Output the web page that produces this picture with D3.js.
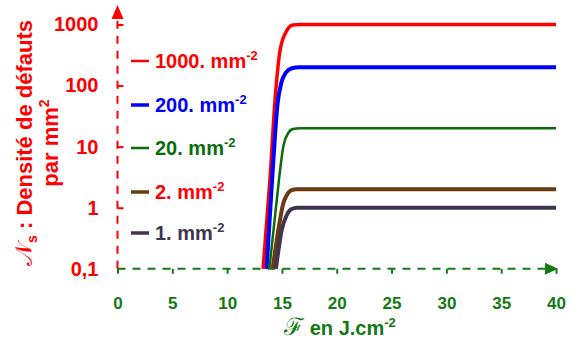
<!DOCTYPE html>
<html><head><meta charset="utf-8">
<script src="https://cdn.jsdelivr.net/npm/d3@7"></script>
<style>
html,body{margin:0;padding:0;background:#fff;}
svg{display:block;font-family:"Liberation Sans",Arial,sans-serif;font-weight:bold;}
</style></head>
<body>
<svg id="chart" width="572" height="347"></svg>
<script>
// ---- data ----
const xTicks = [0, 5, 10, 15, 20, 25, 30, 35, 40];
const yTicks = [0.1, 1, 10, 100, 1000];
const yTickLabels = ["0,1", "1", "10", "100", "1000"];
const legendLabels = ["1000.", "200.", "20.", "2.", "1."];
const seriesColors = ["#ff0000", "#0000ff", "#0b6b0b", "#6b3a10", "#40344f"];
const legendTextColors = ["#ff0000", "#0000ff", "#0b6b0b", "#ff0000", "#40344f"];
// fluence (J.cm-2) and density (mm-2)
const F_1000 = [13.28, 13.9, 14.37, 14.83, 15.45, 16.0, 16.6, 40];
const N_1000 = [0.1, 2.8, 58, 380, 800, 985, 1000, 1000];
const F_200 = [13.6, 14.1, 14.6, 14.95, 15.35, 15.9, 16.6, 40];
const N_200 = [0.1, 2.8, 50, 112, 163, 192, 200, 200];
const F_20 = [13.85, 14.5, 14.83, 15.1, 15.56, 16.0, 16.65, 40];
const N_20 = [0.1, 1.2, 4.1, 9.5, 16.5, 19.5, 20, 20];
const F_2 = [14.15, 14.67, 15.13, 15.44, 15.89, 16.35, 40];
const N_2 = [0.1, 0.43, 1.19, 1.6, 1.94, 2, 2];
const F_1 = [14.45, 14.98, 15.44, 15.89, 16.38, 40];
const N_1 = [0.1, 0.43, 0.76, 0.95, 1, 1];

const seriesF = [F_1000, F_200, F_20, F_2, F_1];
const seriesN = [N_1000, N_200, N_20, N_2, N_1];
const seriesWidths = [3.5, 4, 2.5, 4, 4];

const svg = d3.select("#chart");
const x = d3.scaleLinear().domain([0, 40]).range([117.5, 556]);
const y = d3.scaleLog().domain([0.1, 1000]).range([268.8, 24.5]);
const green = "#127a12";
const red = "#ff0000";

// ---- axes ----
const xAxis = d3.axisBottom(x).tickValues(xTicks).tickSize(5).tickPadding(23).tickFormat(d3.format("d"));
const gx = svg.append("g").attr("transform", `translate(0,${y(0.1)})`).call(xAxis);
gx.select(".domain").remove();
gx.selectAll(".tick line").attr("stroke", green).attr("stroke-width", 2);
gx.selectAll(".tick text").attr("fill", green).attr("font-size", 17).attr("font-weight", "bold")
  .attr("font-family", "Liberation Sans, Arial, sans-serif");

const yAxis = d3.axisLeft(y).tickValues(yTicks).tickSize(-6).tickPadding(19)
  .tickFormat((d, i) => yTickLabels[i]);
const gy = svg.append("g").attr("transform", `translate(${x(0)},0)`).call(yAxis);
gy.select(".domain").remove();
gy.selectAll(".tick line").attr("stroke", red).attr("stroke-width", 2)
  .attr("display", d => d === 0.1 ? "none" : null);
gy.selectAll(".tick text").attr("fill", red).attr("font-size", 20).attr("font-weight", "bold")
  .attr("font-family", "Liberation Sans, Arial, sans-serif");

// dashed axis lines
svg.append("line").attr("x1", x(0)).attr("x2", 546).attr("y1", y(0.1)).attr("y2", y(0.1))
  .attr("stroke", green).attr("stroke-width", 2).attr("stroke-dasharray", "8,7");
svg.append("path").attr("d", `M545,${y(0.1) - 6}L558,${y(0.1)}L545,${y(0.1) + 6}Z`).attr("fill", green);
svg.append("line").attr("x1", x(0)).attr("x2", x(0)).attr("y1", y(0.1)).attr("y2", 18)
  .attr("stroke", red).attr("stroke-width", 2).attr("stroke-dasharray", "8,7");
svg.append("path").attr("d", `M${x(0) - 6},19L${x(0)},5L${x(0) + 6},19Z`).attr("fill", red);

// ---- curves ----
const line = d3.line().x(d => x(d[0])).y(d => y(d[1])).curve(d3.curveMonotoneX);
seriesF.forEach((F, i) => {
  const pts = F.map((f, j) => [f, seriesN[i][j]]);
  svg.append("path").attr("d", line(pts)).attr("fill", "none")
    .attr("stroke", seriesColors[i]).attr("stroke-width", seriesWidths[i]);
});

// ---- legend ----
const legendY = [61, 105, 148, 192, 233];
legendLabels.forEach((lab, i) => {
  svg.append("line").attr("x1", 131).attr("x2", 149).attr("y1", legendY[i]).attr("y2", legendY[i])
    .attr("stroke", seriesColors[i]).attr("stroke-width", i === 2 || i === 0 ? 2.5 : 3.5);
  const t = svg.append("text").attr("x", 155).attr("y", legendY[i] + 7)
    .attr("fill", legendTextColors[i]).attr("font-size", 20);
  t.append("tspan").text(lab + " mm");
  t.append("tspan").attr("font-size", 13).attr("dy", -8).text("-2");
});

// ---- axis titles ----
const xt = svg.append("text").attr("x", 340).attr("y", 335).attr("text-anchor", "middle")
  .attr("fill", green).attr("font-size", 20);
xt.append("tspan").attr("font-family", "DejaVu Serif, serif").attr("font-weight", "normal")
  .attr("font-size", 24).text("ℱ");
xt.append("tspan").text(" en J.cm");
xt.append("tspan").attr("font-size", 13).attr("dy", -8).text("-2");

const yt = svg.append("g").attr("transform", "translate(32,143) rotate(-90)");
const l1 = yt.append("text").attr("text-anchor", "middle").attr("fill", red).attr("font-size", 22);
l1.append("tspan").attr("font-family", "DejaVu Serif, serif").attr("font-weight", "normal")
  .attr("font-size", 24).text("𝒩");
l1.append("tspan").attr("font-size", 14).attr("dy", 5).text("s");
l1.append("tspan").attr("dy", -5).text(" : Densité de défauts");
const l2 = yt.append("text").attr("y", 26).attr("text-anchor", "middle").attr("fill", red).attr("font-size", 22);
l2.append("tspan").text("par mm");
l2.append("tspan").attr("font-size", 14).attr("dy", -9).text("2");
</script>
</body></html>
